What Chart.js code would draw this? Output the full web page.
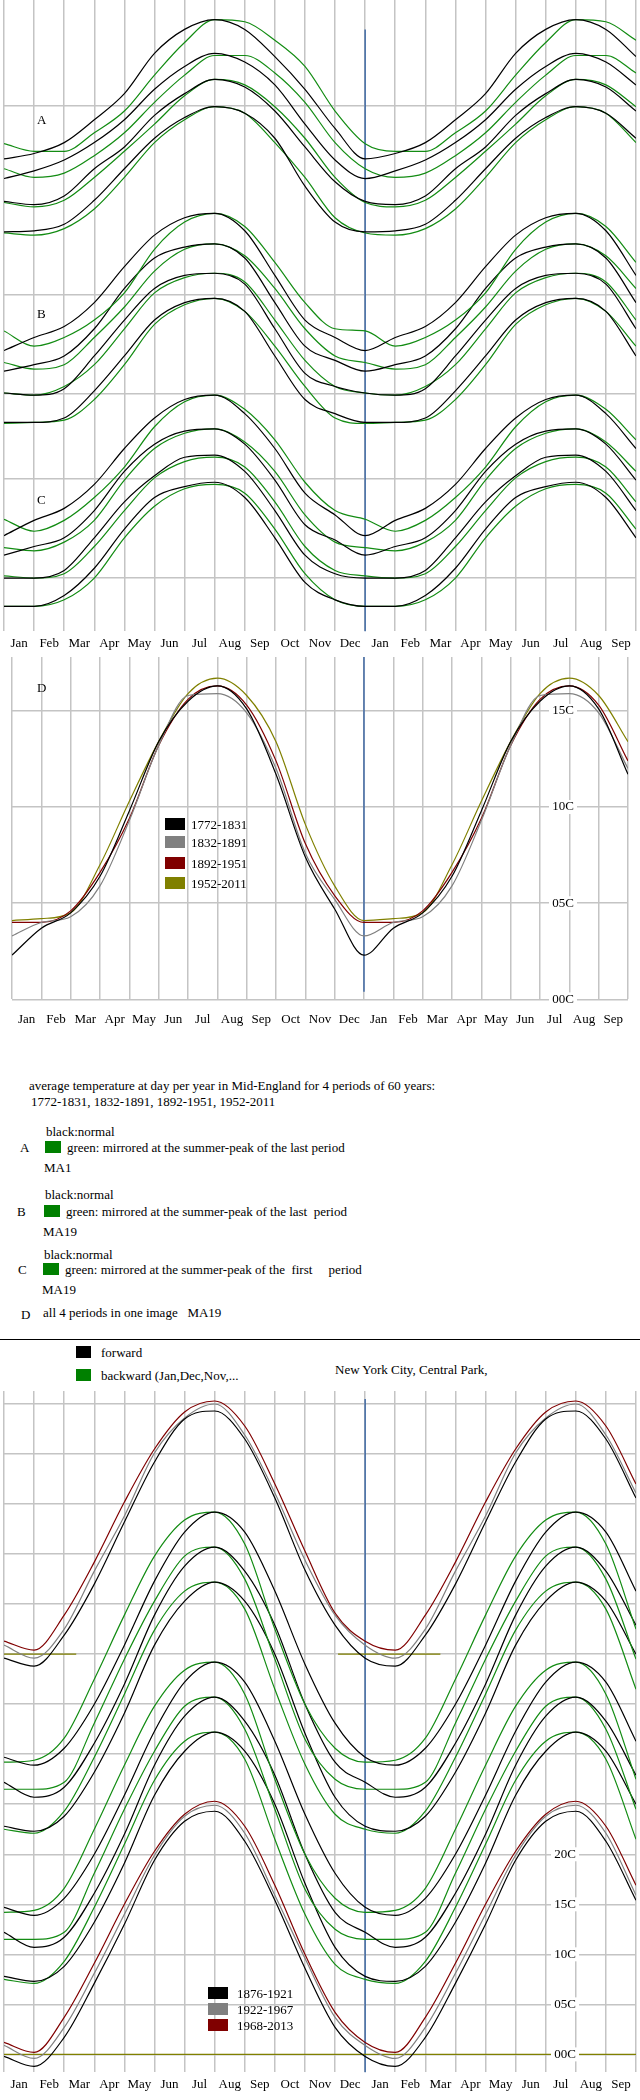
<!DOCTYPE html>
<html>
<head>
<meta charset="utf-8">
<script src="https://cdn.jsdelivr.net/npm/chart.js@4/dist/chart.umd.min.js"></script>
<style>
  body { margin: 0; background: #fff; font-family: "Liberation Serif", "DejaVu Serif", serif; color: #000; }
  #page { position: relative; width: 640px; height: 2100px; overflow: hidden; }
  canvas { position: absolute; left: 0; }
  .t { position: absolute; font-size: 13px; white-space: pre; line-height: 15px; }
  .box { display: inline-block; width: 20px; height: 12px; vertical-align: -1px; margin-right: 6px; }
</style>
</head>
<body>
<div id="page">
  <canvas id="abc" width="640" height="655" style="top:0"></canvas>
  <canvas id="d" width="640" height="382" style="top:657px"></canvas>
  <canvas id="nyc" width="640" height="705" style="top:1391px"></canvas>

  <div class="t" style="left:37px;top:112px">A</div>
  <div class="t" style="left:37px;top:306px">B</div>
  <div class="t" style="left:37px;top:492px">C</div>
  <div class="t" style="left:37px;top:680px">D</div>

  <div class="t" style="left:165px;top:817px"><span class="box" style="background:#000"></span>1772-1831</div>
  <div class="t" style="left:165px;top:835px"><span class="box" style="background:#808080"></span>1832-1891</div>
  <div class="t" style="left:165px;top:856px"><span class="box" style="background:#800000"></span>1892-1951</div>
  <div class="t" style="left:165px;top:876px"><span class="box" style="background:#808000"></span>1952-2011</div>

  <div class="t" style="left:29px;top:1078px">average temperature at day per year in Mid-England for 4 periods of 60 years:</div>
  <div class="t" style="left:31px;top:1094px">1772-1831, 1832-1891, 1892-1951, 1952-2011</div>
  <div class="t" style="left:46px;top:1124px">black:normal</div>
  <div class="t" style="left:20px;top:1140px">A</div>
  <div class="t" style="left:45px;top:1140px"><span class="box" style="background:#008000;width:16px"></span>green: mirrored at the summer-peak of the last period</div>
  <div class="t" style="left:44px;top:1160px">MA1</div>
  <div class="t" style="left:45px;top:1187px">black:normal</div>
  <div class="t" style="left:17px;top:1204px">B</div>
  <div class="t" style="left:44px;top:1204px"><span class="box" style="background:#008000;width:16px"></span>green: mirrored at the summer-peak of the last  period</div>
  <div class="t" style="left:43px;top:1224px">MA19</div>
  <div class="t" style="left:44px;top:1247px">black:normal</div>
  <div class="t" style="left:18px;top:1262px">C</div>
  <div class="t" style="left:43px;top:1262px"><span class="box" style="background:#008000;width:16px"></span>green: mirrored at the summer-peak of the  first     period</div>
  <div class="t" style="left:42px;top:1282px">MA19</div>
  <div class="t" style="left:21px;top:1307px">D</div>
  <div class="t" style="left:43px;top:1305px">all 4 periods in one image   MA19</div>
  <div style="position:absolute;left:0;top:1339px;width:640px;height:1px;background:#000"></div>

  <div class="t" style="left:76px;top:1345px"><span class="box" style="background:#000;width:15px;margin-right:10px"></span>forward</div>
  <div class="t" style="left:76px;top:1368px"><span class="box" style="background:#008000;width:15px;margin-right:10px"></span>backward (Jan,Dec,Nov,...</div>
  <div class="t" style="left:335px;top:1362px">New York City, Central Park,</div>

  <div class="t" style="left:208px;top:1986px"><span class="box" style="background:#000;margin-right:9px"></span>1876-1921</div>
  <div class="t" style="left:208px;top:2002px"><span class="box" style="background:#808080;margin-right:9px"></span>1922-1967</div>
  <div class="t" style="left:208px;top:2018px"><span class="box" style="background:#800000;margin-right:9px"></span>1968-2013</div>
</div>
<script>
// x = months since Jan 1; the chart shows one year and then the same year again up to Sep
const MONTH_X = [0, 1, 2, 3, 4, 5, 6, 7, 8, 9, 10, 11, 12, 13, 14, 15, 16, 17, 18, 19, 20, 21];
const MONTH_NAMES = ['Jan', 'Feb', 'Mar', 'Apr', 'May', 'Jun', 'Jul', 'Aug', 'Sep', 'Oct', 'Nov', 'Dec',
  'Jan', 'Feb', 'Mar', 'Apr', 'May', 'Jun', 'Jul', 'Aug', 'Sep'];

// panels A, B, C (stacked, arbitrary offset units); one value per month start, Jan..Jan
const A1k = [43.4, 43.9, 44.9, 47.0, 49.4, 53.1, 55.3, 56.2, 55.3, 52.8, 49.8, 46.2, 43.4];
const A1g = [44.8, 44.1, 44.1, 45.8, 47.8, 51.1, 54.1, 56.2, 56.0, 54.3, 51.9, 47.8, 44.8];
const A2k = [41.6, 42.3, 43.3, 44.9, 47.0, 49.8, 51.9, 53.1, 52.3, 50.2, 46.6, 43.3, 41.6];
const A2g = [42.5, 41.7, 42.1, 43.7, 45.8, 48.6, 51.1, 52.9, 52.9, 51.3, 48.6, 44.9, 42.5];
const A3k = [39.5, 39.2, 40.0, 42.5, 44.5, 47.4, 49.4, 50.7, 50.0, 47.8, 44.5, 41.3, 39.5];
const A3g = [39.4, 39.0, 39.6, 41.7, 44.1, 46.6, 49.2, 50.7, 50.2, 48.2, 45.3, 41.7, 39.4];
const A4k = [36.7, 36.8, 37.4, 39.6, 42.5, 45.3, 47.2, 48.2, 47.6, 45.3, 40.9, 37.6, 36.7];
const A4g = [36.6, 36.4, 37.0, 38.8, 41.7, 44.9, 47.0, 48.2, 47.6, 44.9, 41.7, 38.0, 36.6];

const B1k = [25.8, 27.0, 28.0, 30.2, 33.5, 36.4, 38.0, 38.4, 36.8, 32.7, 28.6, 27.0, 25.8];
const B1g = [27.6, 26.2, 27.0, 28.6, 31.1, 35.1, 37.6, 38.4, 37.2, 33.9, 30.2, 27.8, 27.6];
const B2k = [23.9, 24.5, 25.3, 27.8, 31.5, 34.3, 35.3, 35.6, 34.3, 30.2, 26.2, 24.9, 23.9];
const B2g = [24.7, 24.1, 24.5, 27.0, 29.8, 33.1, 35.1, 35.6, 34.5, 31.5, 27.8, 25.3, 24.7];
const B3k = [21.9, 21.7, 22.3, 25.3, 28.6, 31.5, 32.7, 32.9, 31.9, 27.8, 23.7, 22.5, 21.9];
const B3g = [21.9, 21.7, 22.5, 24.5, 27.8, 31.1, 32.5, 32.9, 32.1, 28.6, 24.9, 22.5, 21.9];
const B4k = [19.2, 19.2, 19.6, 22.1, 25.3, 28.6, 30.2, 30.6, 29.4, 25.3, 21.3, 20.0, 19.2];
const B4g = [19.1, 19.2, 19.4, 21.3, 24.5, 28.2, 30.0, 30.6, 29.4, 26.2, 22.5, 19.6, 19.1];

const C1k = [8.8, 10.2, 11.3, 13.5, 16.8, 19.6, 21.3, 21.7, 20.0, 16.8, 12.7, 10.7, 8.8];
const C1g = [10.3, 9.2, 10.2, 12.3, 15.1, 18.8, 21.1, 21.7, 20.4, 17.6, 13.7, 11.1, 10.3];
const C2k = [7.0, 7.8, 8.6, 11.1, 14.7, 17.2, 18.4, 18.6, 17.2, 13.9, 9.8, 8.4, 7.0];
const C2g = [7.7, 7.4, 8.2, 10.2, 13.9, 16.8, 18.2, 18.6, 17.4, 14.7, 10.7, 8.2, 7.7];
const C3k = [4.9, 4.9, 5.6, 8.6, 11.9, 14.3, 16.0, 16.2, 14.7, 11.1, 7.0, 5.3, 4.9];
const C3g = [5.1, 4.9, 5.3, 7.8, 11.1, 14.1, 15.6, 16.0, 15.1, 11.9, 7.8, 5.6, 5.1];
const C4k = [2.3, 2.3, 3.3, 5.8, 9.4, 12.3, 13.3, 13.7, 12.3, 8.6, 4.5, 2.9, 2.3];
const C4g = [2.3, 2.3, 2.9, 4.9, 8.6, 11.5, 13.1, 13.5, 12.7, 9.4, 5.3, 2.9, 2.3];

// panel D, degrees C
const D1772 = [2.3, 3.7, 4.5, 6.4, 9.8, 13.4, 15.5, 16.3, 15.1, 11.7, 7.4, 4.7, 2.3];
const D1832 = [3.3, 4.0, 4.3, 5.9, 9.3, 13.2, 15.8, 15.9, 14.9, 12.0, 7.6, 5.2, 3.3];
const D1892 = [4.0, 4.0, 4.6, 6.6, 9.4, 13.2, 15.6, 16.3, 15.3, 12.4, 8.1, 5.4, 4.0];
const D1952 = [4.1, 4.2, 4.5, 7.0, 10.3, 13.4, 15.9, 16.7, 15.8, 13.4, 9.1, 5.9, 4.1];
const D_TICKS = [0, 5, 10, 15];
const D_LABELS = ['00C', '05C', '10C', '15C'];

// New York, degrees C; upper curves are drawn with an offset
const NtopK = [39.6, 38.8, 41.9, 47.0, 53.2, 59.2, 63.5, 64.3, 61.5, 55.6, 48.4, 42.9, 39.6];
const NtopG = [40.9, 39.6, 42.5, 48.3, 53.8, 60.1, 63.6, 65.0, 61.9, 56.1, 49.4, 43.9, 40.9];
const NtopR = [41.3, 40.4, 43.9, 49.2, 55.2, 60.5, 64.2, 65.3, 62.8, 57.0, 50.3, 44.1, 41.3];
const P1k = [29.7, 28.9, 30.6, 35.0, 40.9, 47.3, 52.2, 54.2, 52.2, 46.3, 39.0, 33.1, 29.7];
const P1g = [29.2, 29.4, 31.6, 37.5, 43.9, 49.8, 53.4, 54.2, 51.0, 42.5, 35.0, 30.6, 29.2];
const P2k = [27.2, 25.7, 26.7, 31.1, 37.0, 43.9, 48.8, 50.7, 48.3, 42.9, 35.0, 29.2, 27.2];
const P2g = [26.5, 26.5, 27.2, 33.1, 39.5, 45.3, 49.8, 50.7, 47.5, 39.5, 31.5, 27.5, 26.5];
const P3k = [22.8, 22.3, 23.8, 28.2, 34.1, 40.9, 45.3, 47.2, 45.3, 40.0, 32.1, 25.7, 22.8];
const P3g = [22.5, 22.1, 24.3, 29.7, 36.0, 42.4, 46.3, 47.2, 44.5, 36.5, 29.0, 24.0, 22.5];
const P4k = [14.7, 13.9, 15.6, 20.0, 25.9, 32.3, 37.2, 39.2, 37.2, 31.3, 24.0, 18.1, 14.7];
const P4g = [14.2, 14.4, 16.6, 22.5, 28.9, 34.8, 38.4, 39.2, 36.0, 27.5, 20.0, 15.6, 14.2];
const P5k = [12.2, 10.7, 11.7, 16.1, 22.0, 28.9, 33.8, 35.7, 33.3, 27.9, 20.0, 14.2, 12.2];
const P5g = [11.5, 11.5, 12.2, 18.1, 24.5, 30.3, 34.8, 35.7, 32.5, 24.5, 16.5, 12.5, 11.5];
const P6k = [7.8, 7.3, 8.8, 13.2, 19.1, 25.9, 30.3, 32.2, 30.3, 25.0, 17.1, 10.7, 7.8];
const P6g = [7.5, 7.1, 9.3, 14.7, 21.0, 27.4, 31.3, 32.2, 29.5, 21.5, 14.0, 9.0, 7.5];
const N1876 = [-0.2, -1.2, 1.7, 7.1, 13.0, 19.4, 23.3, 24.3, 21.3, 15.4, 8.6, 2.7, -0.2];
const N1922 = [0.9, -0.4, 2.7, 8.1, 14.0, 19.9, 23.8, 24.9, 22.1, 15.9, 9.6, 3.7, 0.9];
const N1968 = [1.2, 0.2, 3.7, 9.1, 15.0, 20.3, 24.0, 25.3, 22.8, 16.9, 10.0, 4.2, 1.2];
const N_TICKS = [0, 5, 10, 15, 20, 25, 30, 35, 40, 45, 50, 55, 60, 65];
const N_LABELS = ['00C', '05C', '10C', '15C', '20C'];

const ABC_GRID = [4.9, 14, 21.8, 30.9, 48.3];

const colors = {
  black: '#000000',
  green: '#138c13',
  grey: '#808080',
  red: '#800000',
  olive: '#808000',
  blue: '#2a5a9e',
  grid: '#c4c4c4'
};

const twoYears = (year) => year.concat(year.slice(1, 10));

const line = (year, color) => ({
  data: MONTH_X.map((x, i) => ({ x, y: twoYears(year)[i] })),
  borderColor: color,
  borderWidth: 1.2,
  pointRadius: 0,
  cubicInterpolationMode: 'monotone',
  fill: false
});

const rule = (x0, y0, x1, y1, color) => ({
  data: [{ x: x0, y: y0 }, { x: x1, y: y1 }],
  borderColor: color,
  borderWidth: 1.3,
  pointRadius: 0,
  tension: 0
});

const xAxis = (pad) => ({
  type: 'linear',
  min: 0,
  max: 21,
  afterBuildTicks: (ax) => {
    const t = [];
    for (let i = 0; i <= 21; i++) {
      t.push({ value: i });
      if (i < 21) t.push({ value: i + 0.5 });
    }
    ax.ticks = t;
  },
  ticks: {
    autoSkip: false,
    maxRotation: 0,
    padding: pad,
    color: '#000',
    font: { family: 'Liberation Serif', size: 13 },
    callback: (v) => (v % 1 ? MONTH_NAMES[Math.floor(v)] : '')
  },
  grid: {
    color: (ctx) => (ctx.tick && ctx.tick.value % 1 === 0 ? colors.grid : 'rgba(0,0,0,0)'),
    lineWidth: 1.5,
    drawTicks: false
  },
  border: { display: false }
});

const yAxis = (min, max, grid) => ({
  type: 'linear',
  min,
  max,
  afterBuildTicks: (ax) => { ax.ticks = grid.map(v => ({ value: v })); },
  ticks: { display: false },
  grid: { color: colors.grid, lineWidth: 1.5, drawTicks: false },
  border: { display: false }
});

const yLabels = {
  id: 'yLabels',
  afterDatasetsDraw(chart, args, opts) {
    if (!opts.values) return;
    const ctx = chart.ctx;
    const ys = chart.scales.y;
    ctx.save();
    ctx.font = '13px "Liberation Serif"';
    ctx.textAlign = 'center';
    ctx.textBaseline = 'middle';
    opts.values.forEach((v, i) => {
      const py = ys.getPixelForValue(v);
      ctx.fillStyle = '#fff';
      ctx.fillRect(opts.x - 14, py - 7, 28, 14);
      ctx.fillStyle = '#000';
      ctx.fillText(opts.labels[i], opts.x, py);
    });
    ctx.restore();
  }
};

const makeChart = (id, datasets, scales, labelOpts) => new Chart(document.getElementById(id), {
  type: 'line',
  data: { datasets },
  options: {
    responsive: false,
    animation: false,
    layout: { padding: 0 },
    plugins: { legend: { display: false }, tooltip: { enabled: false }, yLabels: labelOpts || {} },
    scales
  },
  plugins: [yLabels]
});

makeChart('abc', [
  line(A1k, colors.black), line(A1g, colors.green), line(A2k, colors.black), line(A2g, colors.green),
  line(A3k, colors.black), line(A3g, colors.green), line(A4k, colors.black), line(A4g, colors.green),
  line(B1k, colors.black), line(B1g, colors.green), line(B2k, colors.black), line(B2g, colors.green),
  line(B3k, colors.black), line(B3g, colors.green), line(B4k, colors.black), line(B4g, colors.green),
  line(C1k, colors.black), line(C1g, colors.green), line(C2k, colors.black), line(C2g, colors.green),
  line(C3k, colors.black), line(C3g, colors.green), line(C4k, colors.black), line(C4g, colors.green),
  rule(12, 0, 12, 55.3, colors.blue)
], { x: xAxis(4), y: yAxis(0, 58, ABC_GRID) });

makeChart('d', [
  line(D1772, colors.black), line(D1832, colors.grey), line(D1892, colors.red), line(D1952, colors.olive),
  rule(12, 0.4, 12, 17.8, colors.blue)
], { x: xAxis(12), y: yAxis(0, 17.8, D_TICKS) }, { values: D_TICKS, labels: D_LABELS, x: 563 });

makeChart('nyc', [
  line(NtopK, colors.black), line(NtopG, colors.grey), line(NtopR, colors.red),
  line(P1k, colors.black), line(P1g, colors.green), line(P2k, colors.black), line(P2g, colors.green),
  line(P3k, colors.black), line(P3g, colors.green), line(P4k, colors.black), line(P4g, colors.green),
  line(P5k, colors.black), line(P5g, colors.green), line(P6k, colors.black), line(P6g, colors.green),
  line(N1876, colors.black), line(N1922, colors.grey), line(N1968, colors.red),
  rule(0, 0, 21, 0, colors.olive), rule(0, 40, 2.4, 40, colors.olive), rule(11.1, 40, 14.5, 40, colors.olive),
  rule(12, -1.8, 12, 65.5, colors.blue)
], { x: xAxis(4), y: yAxis(-1.8, 66.3, N_TICKS) }, { values: [0, 5, 10, 15, 20], labels: N_LABELS, x: 565 });
</script>
</body>
</html>
